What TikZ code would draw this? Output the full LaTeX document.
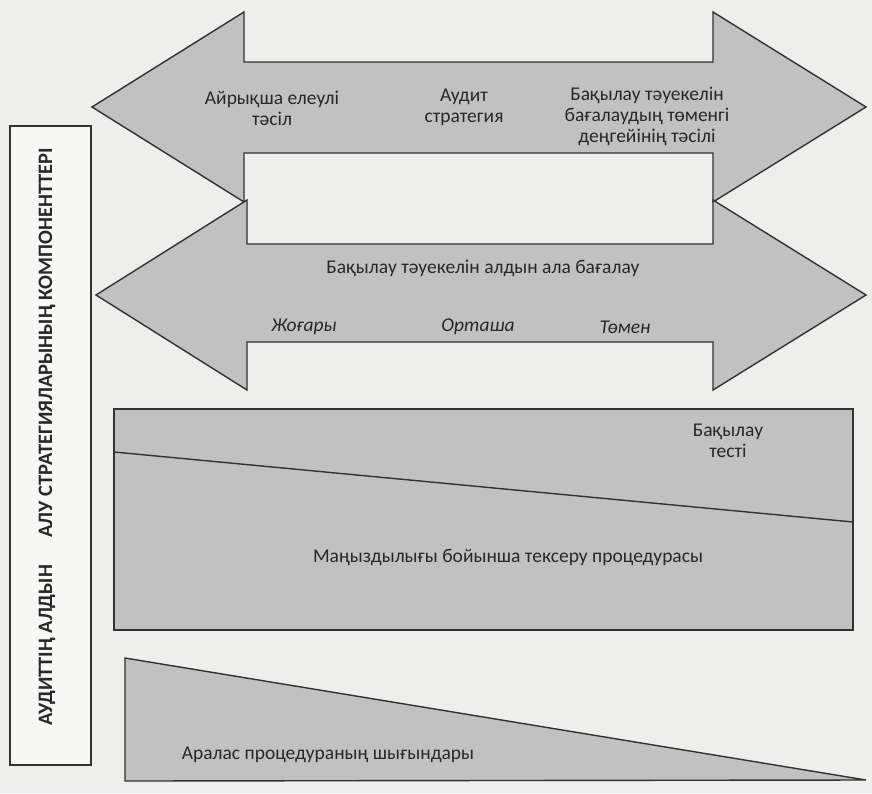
\documentclass[tikz,border=0pt]{standalone}
\usepackage{fontspec}
\setmainfont{Carlito}
\usepackage{tikz}
\usepackage{xcolor}

\definecolor{pagegray}{RGB}{238,238,236}
\definecolor{shapegray}{RGB}{193,193,193}
\definecolor{edgegray}{RGB}{50,50,50}
\definecolor{inkgray}{RGB}{40,40,40}

\tikzset{
    greyshape/.style={draw=edgegray, fill=shapegray, line width=1.4pt, line join=miter},
    lbl/.style={text=inkgray, align=center, font=\fontsize{19.5}{21}\selectfont},
    itlbl/.style={lbl, font=\fontsize{19.5}{21}\selectfont\itshape}
}

\begin{document}
\begin{tikzpicture}[x=1pt, y=-1pt]

\fill[pagegray] (0,0) rectangle (872,793);
\useasboundingbox (0,0) rectangle (872,793);

\draw[greyshape]
    (92,107) -- (244,12) -- (244,62) -- (713,62) -- (713,12) -- (866,107)
    -- (713,202) -- (713,153) -- (244,153) -- (244,202) -- cycle;

\draw[greyshape]
    (96,295) -- (247,200) -- (247,244) -- (713,244) -- (713,200) -- (866,295)
    -- (713,390) -- (713,342) -- (247,342) -- (247,390) -- cycle;

\draw[greyshape] (114,409) rectangle (853,630);
\draw[edgegray, line width=1.4pt] (114,452) -- (853,522);

\draw[greyshape] (125,658) -- (866,780) -- (125,781) -- cycle;

\draw[edgegray, line width=1.2pt, fill=white!55!pagegray] (10,126) rectangle (91,765);

\node[lbl] (approach) at (272,108) {Айрықша елеулі\\тәсіл};
\node[lbl] (strategy) at (464,107) {Аудит\\стратегия};
\node[lbl] (lowlevel) at (647,116) {Бақылау тәуекелін\\бағалаудың төменгі\\деңгейінің тәсілі};

\node[lbl] (assess) at (483,268) {Бақылау тәуекелін алдын ала бағалау};
\node[itlbl] (high) at (304,327) {Жоғары};
\node[itlbl] (medium) at (478,327) {Орташа};
\node[itlbl] (low) at (625,327) {Төмен};

\node[lbl] (ctest) at (728,441) {Бақылау\\тесті};
\node[lbl] (subst) at (508,557) {Маңыздылығы бойынша тексеру процедурасы};

\node[lbl] (costs) at (328,755) {Аралас процедураның шығындары};

\node[
    rotate=90,
    text=inkgray,
    font=\fontsize{20.5}{24}\selectfont\bfseries
] (components) at (47,437)
{АУДИТТІҢ АЛДЫН\hspace{1.1em} АЛУ СТРАТЕГИЯЛАРЫНЫҢ КОМПОНЕНТТЕРІ};

\end{tikzpicture}
\end{document}
